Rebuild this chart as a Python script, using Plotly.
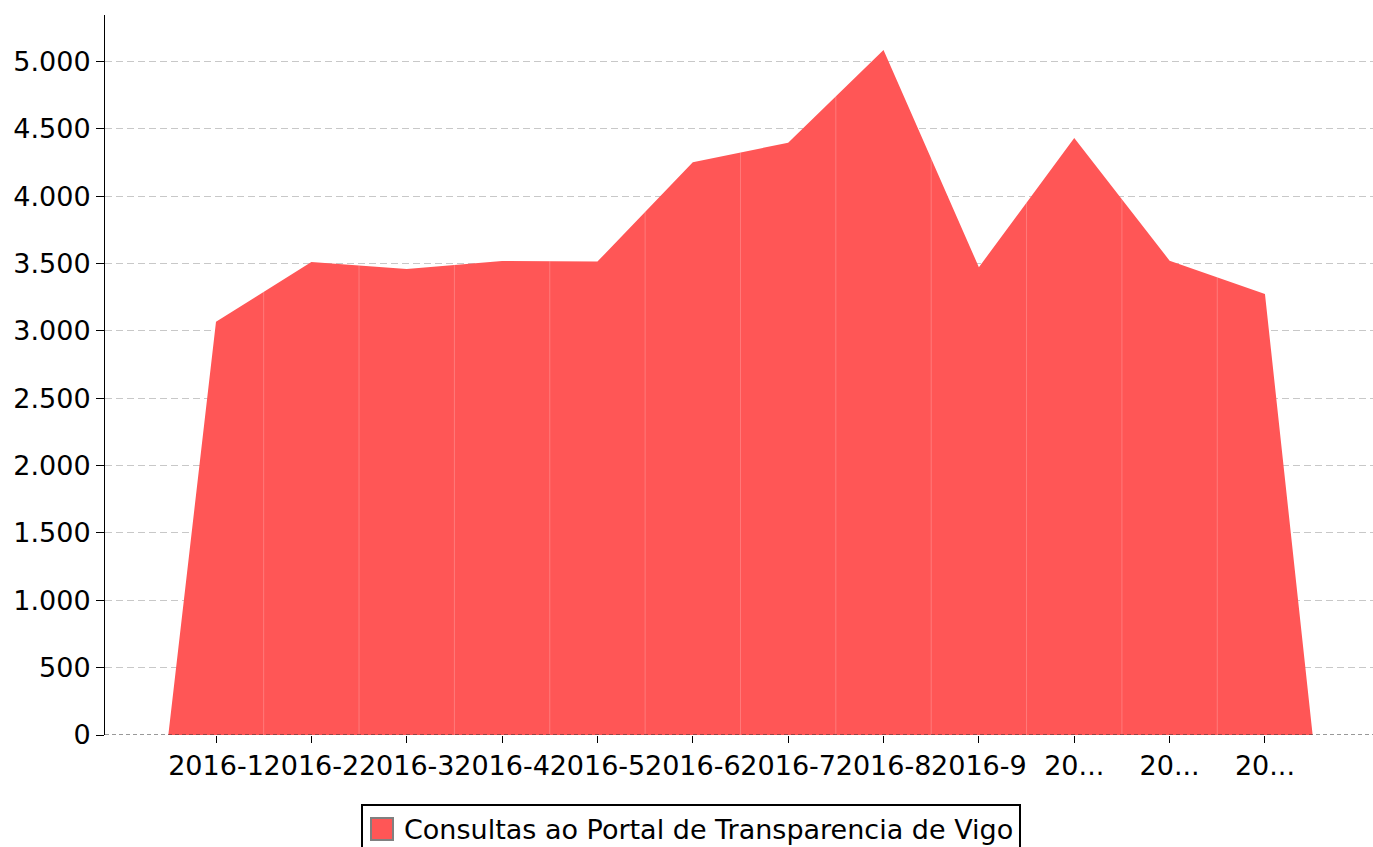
import plotly.graph_objects as go

categories = ["2016-1", "2016-2", "2016-3", "2016-4", "2016-5", "2016-6",
              "2016-7", "2016-8", "2016-9", "2016-10", "2016-11", "2016-12"]
values = [3069, 3512, 3460, 3520, 3515, 4253, 4398, 5087, 3473, 4433, 3522, 3275]
tick_labels = ["2016-1", "2016-2", "2016-3", "2016-4", "2016-5", "2016-6",
               "2016-7", "2016-8", "2016-9", "20...", "20...", "20..."]
y_ticks = [0, 500, 1000, 1500, 2000, 2500, 3000, 3500, 4000, 4500, 5000]
series_name = "Consultas ao Portal de Transparencia de Vigo"

FILL = "#FF5656"
FONT = "DejaVu Sans"
FS = 27

W, H = 1373, 847
ML, MR, MT, MB = 105, 0, 15, 112
PW, PH = W - ML - MR, H - MT - MB


def px_x(p):
    return (p - ML) / PW


def px_y(p):
    return (H - MB - p) / PH


n = len(categories)
xs = list(range(n))
area_x = [-0.5] + xs + [n - 0.5]
area_y = [0] + values + [0]

seam_x, seam_y = [], []
for k in range(n - 1):
    seam_x += [k + 0.5, k + 0.5, None]
    seam_y += [0, (values[k] + values[k + 1]) / 2, None]

fig = go.Figure()
fig.add_trace(go.Scatter(
    x=area_x, y=area_y, mode="lines", fill="toself", fillcolor=FILL,
    line=dict(width=0, color=FILL), name=series_name, showlegend=False,
    hoverinfo="skip"))
fig.add_trace(go.Scatter(
    x=seam_x, y=seam_y, mode="lines",
    line=dict(width=1, color="rgba(255,255,255,0.22)"),
    showlegend=False, hoverinfo="skip"))

x_lo = (105 - 216) / 95.36
x_hi = (1373 - 216) / 95.36

fig.update_layout(
    width=W, height=H,
    margin=dict(l=ML, r=MR, t=MT, b=MB, pad=0),
    paper_bgcolor="white", plot_bgcolor="white",
    separators=",.",
    font=dict(family=FONT, size=FS, color="black"),
    showlegend=False,
    xaxis=dict(
        range=[x_lo, x_hi], tickmode="array", tickvals=xs, ticktext=tick_labels,
        tickangle=0,
        ticks="outside", ticklen=7, tickwidth=1, tickcolor="black",
        showgrid=False, zeroline=False, showline=False,
        tickfont=dict(family=FONT, size=FS, color="black"),
        fixedrange=True),
    yaxis=dict(
        range=[0, 5346], tickmode="array", tickvals=y_ticks, tickformat=",d",
        ticks="outside", ticklen=8, tickwidth=1, tickcolor="black",
        showline=True, linecolor="black", linewidth=1,
        showgrid=True, gridcolor="#c8c8c8", gridwidth=1, griddash="7px,4px",
        zeroline=False,
        tickfont=dict(family=FONT, size=FS, color="black"),
        fixedrange=True),
    shapes=[
        dict(type="line", xref="paper", yref="y", x0=0, x1=1, y0=0, y1=0,
             line=dict(color="#333333", width=1, dash="4px,3px"), layer="above"),
        dict(type="rect", xref="paper", yref="paper",
             x0=px_x(362), x1=px_x(1020), y0=px_y(805), y1=px_y(862),
             line=dict(color="black", width=2), fillcolor="white", layer="above"),
        dict(type="rect", xref="paper", yref="paper",
             x0=px_x(371), x1=px_x(393), y0=px_y(818), y1=px_y(840),
             line=dict(color="#808080", width=2), fillcolor=FILL, layer="above"),
    ],
    annotations=[
        dict(text=series_name, xref="paper", yref="paper",
             x=px_x(402), y=px_y(829), xanchor="left", yanchor="middle",
             showarrow=False, font=dict(family=FONT, size=FS, color="black")),
    ],
)

fig.write_html("out.html", include_plotlyjs=True, config={"displayModeBar": False},
               post_script="document.body.style.margin='0';document.body.style.overflow='hidden';")
